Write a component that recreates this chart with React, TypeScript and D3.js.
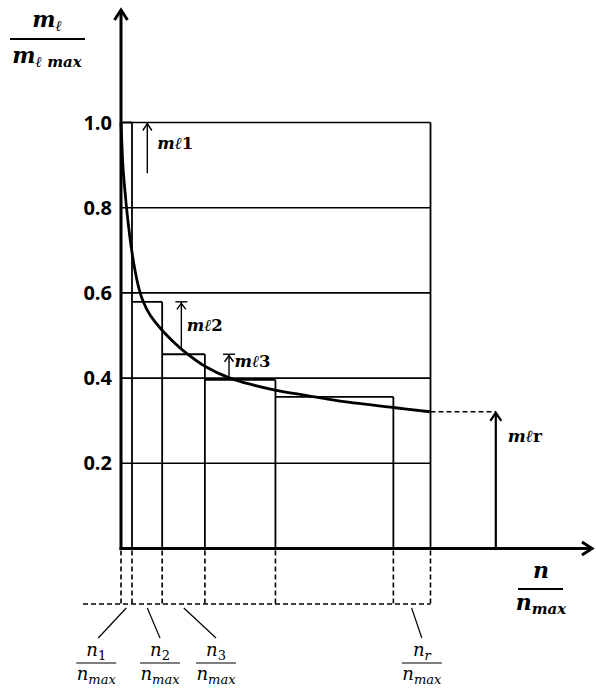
import React, { useRef, useEffect } from 'react';
import * as d3 from 'd3';

const GRID_VALUES = [0.2, 0.4, 0.6, 0.8, 1.0];
const TICK_LABELS = ['0.2', '0.4', '0.6', '0.8', '1.0'];

// step edges as n/nmax, and the height of each step
const STEP_EDGES = [0, 0.0355, 0.133, 0.271, 0.499, 0.88, 1.0];
const STEP_TOPS = [1.0, 0.579, 0.456, 0.396, 0.356];

// the smooth curve m/mmax vs n/nmax
const CURVE_X = [0, 0.003, 0.006, 0.011, 0.017, 0.024, 0.032, 0.042, 0.055, 0.07, 0.094, 0.132, 0.174, 0.207, 0.271, 0.352, 0.426, 0.498, 0.601, 0.698, 0.879, 0.998];
const CURVE_Y = [1.0, 0.947, 0.9, 0.853, 0.806, 0.759, 0.713, 0.666, 0.619, 0.583, 0.548, 0.513, 0.482, 0.461, 0.428, 0.4, 0.384, 0.372, 0.359, 0.347, 0.331, 0.321];

// annotation arrows: x position, from, to
const ANNOT_LABELS = ['1', '2', '3'];
const ANNOT_X = [0.085, 0.195, 0.349];
const ANNOT_FROM = [0.881, 0.466, 0.4];
const ANNOT_TO = [1.0, 0.579, 0.456];
const ANNOT_CAP = [false, true, true];

const RESIDUAL_X = 1.211;
const RESIDUAL_VALUE = 0.321;

const BOTTOM_LABELS = ['1', '2', '3', 'r'];
const BOTTOM_LEADER_FROM = [0.017, 0.085, 0.203, 0.939];
const BOTTOM_LABEL_X = [-0.08, 0.126, 0.307, 0.972];

const W = 596;
const H = 688;

export default function App() {
  const svgRef = useRef(null);

  useEffect(() => {
    const root = d3.select(svgRef.current);
    root.selectAll('*').remove();
    root.attr('width', W).attr('height', H);

    const x = d3.scaleLinear().domain([0, 1]).range([121, 430.5]);
    const y = d3.scaleLinear().domain([0, 1]).range([548.5, 122.5]);

    const svg = root.append('g');
    const serif = '"DejaVu Serif", serif';

    // grid lines
    svg.selectAll('line.grid')
      .data(GRID_VALUES)
      .enter()
      .append('line')
      .attr('x1', x(0)).attr('x2', x(1))
      .attr('y1', d => y(d)).attr('y2', d => y(d))
      .attr('stroke', '#000').attr('stroke-width', 1.6);

    // tick labels
    svg.selectAll('text.tick')
      .data(GRID_VALUES)
      .enter()
      .append('text')
      .attr('x', 112)
      .attr('y', d => y(d) + 7)
      .attr('text-anchor', 'end')
      .style('font-family', '"Open Sans", sans-serif')
      .style('font-weight', 'bold')
      .style('font-size', '20px')
      .text((d, i) => TICK_LABELS[i]);

    // steps
    STEP_TOPS.forEach((top, i) => {
      const x0 = STEP_EDGES[i];
      const x1 = STEP_EDGES[i + 1];
      svg.append('line')
        .attr('x1', x(x0)).attr('x2', x(x1))
        .attr('y1', y(top)).attr('y2', y(top))
        .attr('stroke', '#000').attr('stroke-width', 1.8);
      svg.append('line')
        .attr('x1', x(x1)).attr('x2', x(x1))
        .attr('y1', y(top)).attr('y2', y(0))
        .attr('stroke', '#000').attr('stroke-width', 1.8);
    });
    // right border
    svg.append('line')
      .attr('x1', x(1)).attr('x2', x(1))
      .attr('y1', y(1)).attr('y2', y(0))
      .attr('stroke', '#000').attr('stroke-width', 1.8);

    // curve
    const line = d3.line()
      .x(d => x(d[0]))
      .y(d => y(d[1]))
      .curve(d3.curveCatmullRom.alpha(0.5));
    svg.append('path')
      .attr('d', line(CURVE_X.map((v, i) => [v, CURVE_Y[i]])))
      .attr('fill', 'none')
      .attr('stroke', '#000')
      .attr('stroke-width', 2.8);

    const upArrow = (g, px, pyTip, size, width, sw) => {
      g.append('path')
        .attr('d', `M${px - width},${pyTip + size} L${px},${pyTip} L${px + width},${pyTip + size}`)
        .attr('fill', 'none').attr('stroke', '#000').attr('stroke-width', sw);
    };

    // annotations
    ANNOT_X.forEach((ax, i) => {
      const px = x(ax);
      svg.append('line')
        .attr('x1', px).attr('x2', px)
        .attr('y1', y(ANNOT_FROM[i])).attr('y2', y(ANNOT_TO[i]))
        .attr('stroke', '#000').attr('stroke-width', 1.4);
      if (ANNOT_CAP[i]) {
        svg.append('line')
          .attr('x1', px - 6).attr('x2', px + 6)
          .attr('y1', y(ANNOT_TO[i])).attr('y2', y(ANNOT_TO[i]))
          .attr('stroke', '#000').attr('stroke-width', 1.4);
        upArrow(svg, px, y(ANNOT_TO[i]) + 1.5, 6, 4.5, 1.4);
      } else {
        upArrow(svg, px, y(ANNOT_TO[i]) + 1, 7, 4.5, 1.4);
      }
      const t = svg.append('text')
        .attr('x', px + (i === 0 ? 10 : 5.5))
        .attr('y', y(ANNOT_TO[i]) + (i === 0 ? 26 : i === 1 ? 29 : 12.5))
        .style('font-family', serif)
        .style('font-weight', 'bold')
        .style('font-size', '16.5px');
      t.append('tspan').style('font-style', 'italic').text('mℓ');
      t.append('tspan').text(ANNOT_LABELS[i]);
    });

    // residual arrow
    const rx = x(RESIDUAL_X);
    svg.append('line')
      .attr('x1', x(1)).attr('x2', rx)
      .attr('y1', y(RESIDUAL_VALUE)).attr('y2', y(RESIDUAL_VALUE))
      .attr('stroke', '#000').attr('stroke-width', 1.6)
      .attr('stroke-dasharray', '5,3');
    svg.append('line')
      .attr('x1', rx).attr('x2', rx)
      .attr('y1', y(0)).attr('y2', y(RESIDUAL_VALUE) + 1)
      .attr('stroke', '#000').attr('stroke-width', 2.2);
    upArrow(svg, rx, y(RESIDUAL_VALUE) + 1, 8, 5.5, 2.2);
    const rt = svg.append('text')
      .attr('x', rx + 12)
      .attr('y', y(RESIDUAL_VALUE) + 30)
      .style('font-family', serif)
      .style('font-weight', 'bold')
      .style('font-size', '17px');
    rt.append('tspan').style('font-style', 'italic').text('mℓ');
    rt.append('tspan').text('r');

    // bottom dashed guides
    const guideY = 604;
    STEP_EDGES.forEach(e => {
      svg.append('line')
        .attr('x1', x(e)).attr('x2', x(e))
        .attr('y1', y(0) + 2).attr('y2', guideY)
        .attr('stroke', '#000').attr('stroke-width', 1.6)
        .attr('stroke-dasharray', '5,3');
    });
    svg.append('line')
      .attr('x1', 83).attr('x2', x(1))
      .attr('y1', guideY).attr('y2', guideY)
      .attr('stroke', '#000').attr('stroke-width', 1.6)
      .attr('stroke-dasharray', '5,3');

    // leaders and fraction labels
    BOTTOM_LABELS.forEach((lab, i) => {
      const cx = x(BOTTOM_LABEL_X[i]);
      svg.append('line')
        .attr('x1', x(BOTTOM_LEADER_FROM[i])).attr('y1', guideY + 4)
        .attr('x2', cx + (i === 0 ? 2 : 0)).attr('y2', 638)
        .attr('stroke', '#000').attr('stroke-width', 1.2);
      const num = svg.append('text')
        .attr('x', cx).attr('y', 656)
        .attr('text-anchor', 'middle')
        .style('font-family', serif)
        .style('font-size', '18px');
      num.append('tspan').style('font-style', 'italic').text('n');
      num.append('tspan').attr('dy', 4).style('font-size', '13px')
        .style('font-style', lab === 'r' ? 'italic' : 'normal').text(lab);
      svg.append('line')
        .attr('x1', cx - 20).attr('x2', cx + 20)
        .attr('y1', 663).attr('y2', 663)
        .attr('stroke', '#000').attr('stroke-width', 1.2);
      const den = svg.append('text')
        .attr('x', cx).attr('y', 680)
        .attr('text-anchor', 'middle')
        .style('font-family', serif)
        .style('font-style', 'italic')
        .style('font-size', '18px');
      den.append('tspan').text('n');
      den.append('tspan').attr('dy', 4).style('font-size', '13px').text('max');
    });

    // axes
    svg.append('line')
      .attr('x1', x(0)).attr('x2', x(0))
      .attr('y1', y(0) + 1.5).attr('y2', 11)
      .attr('stroke', '#000').attr('stroke-width', 3);
    upArrow(svg, x(0), 10, 10, 6.5, 3);
    svg.append('line')
      .attr('x1', x(0) - 1.5).attr('x2', 591)
      .attr('y1', y(0)).attr('y2', y(0))
      .attr('stroke', '#000').attr('stroke-width', 3);
    svg.append('path')
      .attr('d', `M582,${y(0) - 6.5} L592,${y(0)} L582,${y(0) + 6.5}`)
      .attr('fill', 'none').attr('stroke', '#000').attr('stroke-width', 3);

    // y axis title
    const yn = svg.append('text')
      .attr('x', 47).attr('y', 27)
      .attr('text-anchor', 'middle')
      .style('font-family', serif)
      .style('font-weight', 'bold')
      .style('font-style', 'italic')
      .style('font-size', '22px');
    yn.append('tspan').text('m');
    yn.append('tspan').attr('dy', 4).style('font-size', '15px').text('ℓ');
    svg.append('line')
      .attr('x1', 10).attr('x2', 85)
      .attr('y1', 39).attr('y2', 39)
      .attr('stroke', '#000').attr('stroke-width', 1.8);
    const yd = svg.append('text')
      .attr('x', 47).attr('y', 63)
      .attr('text-anchor', 'middle')
      .style('font-family', serif)
      .style('font-weight', 'bold')
      .style('font-style', 'italic')
      .style('font-size', '22px');
    yd.append('tspan').text('m');
    yd.append('tspan').attr('dy', 4).style('font-size', '15px').text('ℓ max');

    // x axis title
    const xn = svg.append('text')
      .attr('x', 541).attr('y', 578)
      .attr('text-anchor', 'middle')
      .style('font-family', serif)
      .style('font-weight', 'bold')
      .style('font-style', 'italic')
      .style('font-size', '22px');
    xn.text('n');
    svg.append('line')
      .attr('x1', 518).attr('x2', 563)
      .attr('y1', 589).attr('y2', 589)
      .attr('stroke', '#000').attr('stroke-width', 1.8);
    const xd = svg.append('text')
      .attr('x', 541).attr('y', 610)
      .attr('text-anchor', 'middle')
      .style('font-family', serif)
      .style('font-weight', 'bold')
      .style('font-style', 'italic')
      .style('font-size', '22px');
    xd.append('tspan').text('n');
    xd.append('tspan').attr('dy', 4).style('font-size', '15px').text('max');
  }, []);

  return (
    <div style={{ position: 'absolute', left: 0, top: 0, width: W, height: H, background: '#fff' }}>
      <svg ref={svgRef} style={{ display: 'block' }} />
    </div>
  );
}
